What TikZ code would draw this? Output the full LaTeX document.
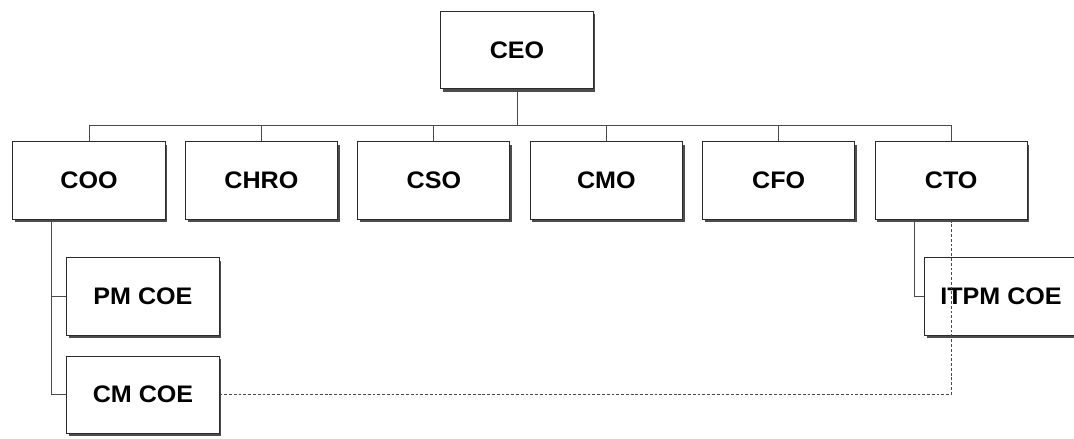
\documentclass[tikz,border=0pt]{standalone}
\usepackage{fontspec}
\usepackage{tikz}
\usetikzlibrary{positioning,shadows}
\newfontfamily\orgfont{Liberation Sans}[FakeStretch=1.05]
\definecolor{ink}{HTML}{2B2B2B}
\definecolor{wire}{HTML}{4A4A4A}

\begin{document}
\begin{tikzpicture}[
  x=0.025cm, y=-0.025cm,
  font=\orgfont\bfseries\fontsize{17}{20}\selectfont,
  node distance=0.485cm and 0.485cm,
  box/.style={draw=ink,line width=0.7pt,fill=white,align=center,
              minimum width=3.8cm,minimum height=1.925cm,inner sep=2pt,
              drop shadow={shadow xshift=0.055cm,shadow yshift=-0.075cm,
                           fill=black!70,opacity=1}},
  link/.style={draw=wire,line width=0.7pt},
  dotline/.style={draw=wire,line width=0.7pt,dash pattern=on 2pt off 1.4pt},
]
\useasboundingbox (0,0) rectangle (1074,439);

% ---- Top
\node[box] (ceo) at (517,50) {CEO};

% ---- Chiefs
\node[box] (coo) at (89,180.5) {COO};
\node[box,right=of coo] (chro) {CHRO};
\node[box,right=of chro] (cso) {CSO};
\node[box,right=of cso] (cmo) {CMO};
\node[box,right=of cmo] (cfo) {CFO};
\node[box,right=of cfo] (cto) {CTO};

% ---- Centres of excellence
\node[box] (pm) at (143,296.5) {PM COE};
\node[box,below=0.5cm of pm] (cm) {CM COE};
\node[box] (itpm) at (1001,296.5) {ITPM COE};

% ---- Lines
\coordinate (bus) at (517,125);
\draw[link] (ceo.south) -- (bus);
\foreach \n in {coo,chro,cso,cmo,cfo,cto}
  \draw[link] (\n.north) -- (\n.north |- bus);
\draw[link] (coo.north |- bus) -- (cto.north |- bus);

\coordinate (cootrunk) at ([xshift=0.975cm]coo.south west);
\draw[link] (cootrunk) |- (pm.west);
\draw[link] (cootrunk) |- (cm.west);
\coordinate (ctotrunk) at ([xshift=1cm]cto.south west);
\draw[link] (ctotrunk) |- (itpm.west);

\draw[dotline] (cm.east) -| (cto.south);

\end{tikzpicture}
\end{document}
